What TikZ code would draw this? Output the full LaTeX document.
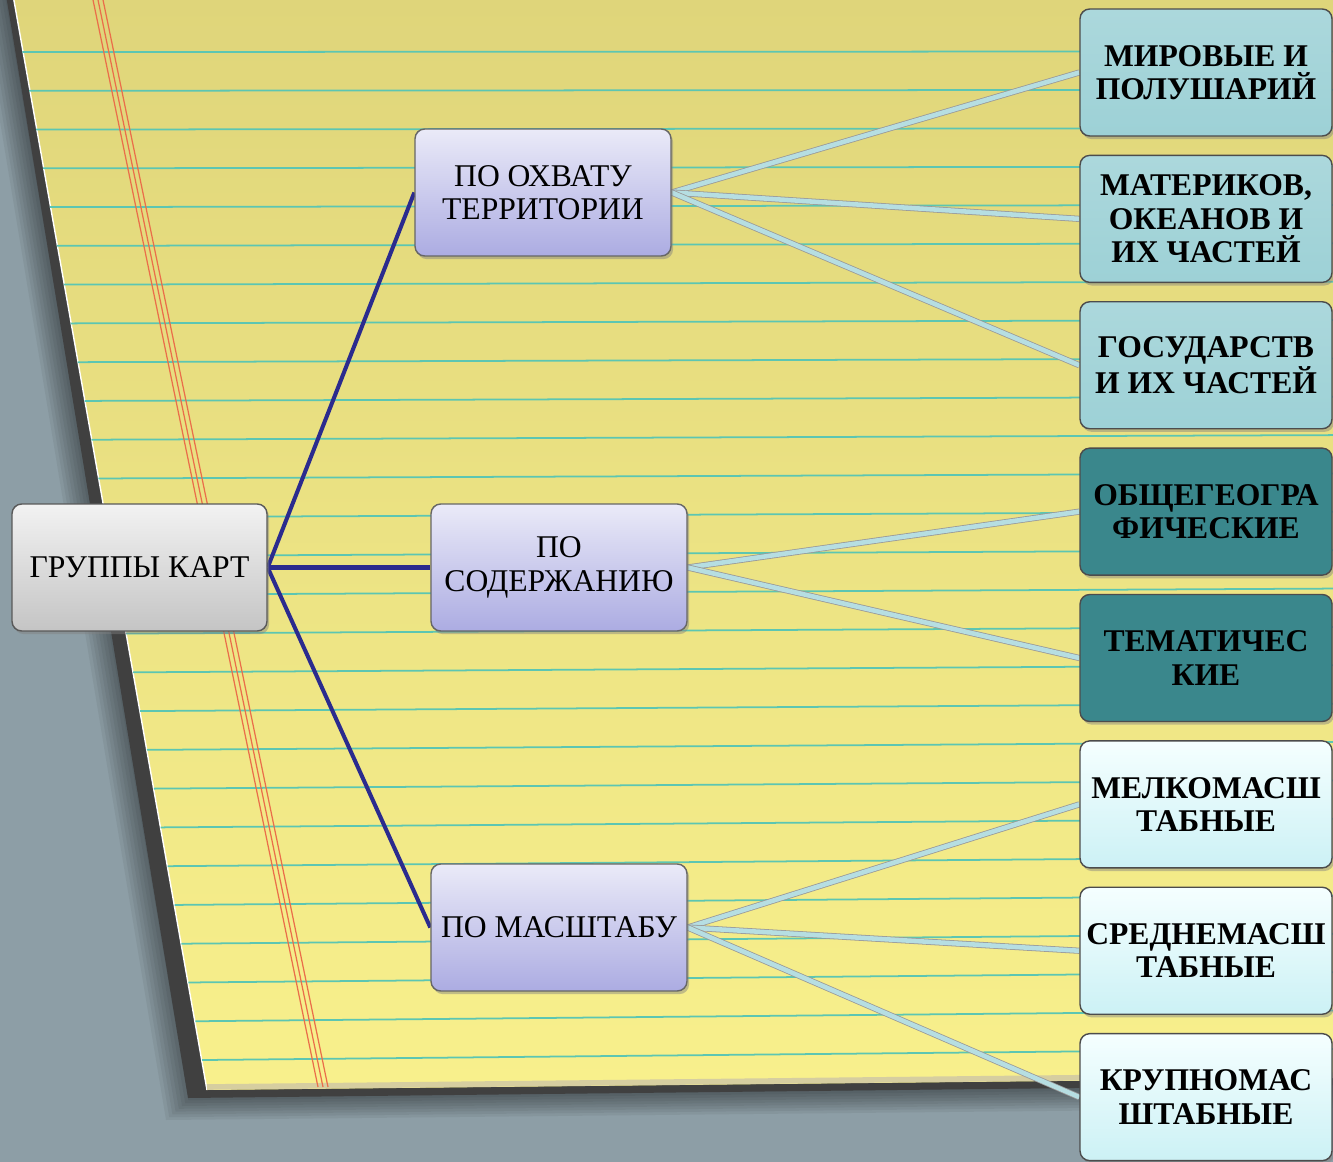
\documentclass[tikz,border=0pt]{standalone}
\usepackage{fontspec}
\setmainfont{Liberation Serif}
\usetikzlibrary{positioning, shadows}
\definecolor{deskGray}{HTML}{8D9EA6}
\definecolor{paperTop}{HTML}{DFD57A}
\definecolor{paperBot}{HTML}{F8F08C}
\definecolor{paperEdge}{HTML}{D6CEA0}
\definecolor{ruleCyan}{HTML}{5CC6B2}
\definecolor{marginRed}{HTML}{EA6E4A}
\definecolor{linkNavy}{HTML}{2B2B8E}
\definecolor{linkLight}{HTML}{B6DEE2}
\definecolor{lavTop}{HTML}{EAEAF8}
\definecolor{lavBot}{HTML}{ACACE2}
\definecolor{tealLight}{HTML}{9DD1D6}
\definecolor{tealDark}{HTML}{3A878C}
\definecolor{iceTop}{HTML}{F5FFFF}
\definecolor{iceBot}{HTML}{CCF1F5}

\pgfdeclarelayer{paper}
\pgfdeclarelayer{links}
\pgfsetlayers{paper,links,main}

\tikzset{
  card/.style={rounded corners=5.5pt, line width=0.8pt, minimum height=2.54cm,
    inner sep=2pt, align=center, font=\fontsize{18}{19}\selectfont,
    drop shadow={shadow xshift=1.2pt, shadow yshift=-1.8pt, opacity=0.45}},
  rootcard/.style={card, draw=black!65, top color=black!5, bottom color=black!23,
    minimum width=5.1cm},
  groupcard/.style={card, draw=black!60, top color=lavTop, bottom color=lavBot,
    minimum width=5.12cm},
  kindcard/.style={card, draw=black!70, minimum width=5.04cm,
    font=\fontsize{18}{19}\selectfont\bfseries},
  areacard/.style={kindcard, top color=tealLight!85!white, bottom color=tealLight},
  contentcard/.style={kindcard, fill=tealDark},
  scalecard/.style={kindcard, top color=iceTop, bottom color=iceBot},
  trunk/.style={linkNavy, line width=2.3pt},
  twig/.style={draw=black!40, double=linkLight, double distance=2.6pt, line width=0.45pt},
}

\begin{document}
\begin{tikzpicture}[x=0.02cm, y=-0.02cm, >=stealth]
  \useasboundingbox (0,0) rectangle (1333,1162);
  \clip (0,0) rectangle (1333,1162);

  \begin{pgfonlayer}{paper}
    % desk and the pad lying on it
    \fill[deskGray] (0,0) rectangle (1333,1162);
    \foreach \d in {4,8,...,40}
      \fill[black, opacity=0.055] (11-\d*0.8,-5) -- (198-\d*0.8,1092+\d*0.7)
        -- (1340,1080+\d*0.7) -- (1340,-5) -- cycle;
    \fill[black!75] (6,-5) -- (188,1098) -- (1340,1085) -- (1340,-5) -- cycle;
    \shade[top color=paperTop, bottom color=paperBot]
      (13,-5) -- (207,1090) -- (1340,1078) -- (1340,-5) -- cycle;
    \draw[white, line width=0.8pt] (13,-5) -- (207,1090);
    \draw[paperEdge, line width=3.2pt] (207,1087) -- (1340,1075);
    % ruled lines
    \foreach \k in {0,...,26} {
      \pgfmathsetmacro\yy{52+38.77*\k}
      \pgfmathsetmacro\xl{13+0.1785*\yy}
      \pgfmathsetmacro\ye{\yy*(1-0.0105)}
      \draw[ruleCyan, line width=1pt] (\xl,\yy) -- (1340,\ye);
    }
    % margin
    \foreach \dx in {0,5,10}
      \draw[marginRed, line width=0.7pt] (92+\dx,-5) -- (318+\dx,1087);
  \end{pgfonlayer}

  % root and groups
  \node[rootcard] (groups) at (139.5,567.5) {ГРУППЫ КАРТ};
  \node[groupcard] (byArea) at (543,192.5) {ПО ОХВАТУ\\ТЕРРИТОРИИ};
  \node[groupcard] (byContent) at (559,567.5) {ПО\\СОДЕРЖАНИЮ};
  \node[groupcard] (byScale) at (559,927.5) {ПО МАСШТАБУ};

  % kinds of maps
  \node[areacard] (world) at (1206,72.5) {МИРОВЫЕ И\\ПОЛУШАРИЙ};
  \node[areacard, below=0.36cm of world] (continents) {МАТЕРИКОВ,\\ОКЕАНОВ И\\ИХ ЧАСТЕЙ};
  \node[areacard, below=0.36cm of continents] (states) {ГОСУДАРСТВ\\И ИХ ЧАСТЕЙ};
  \node[contentcard, below=0.36cm of states] (general) {ОБЩЕГЕОГРА\\ФИЧЕСКИЕ};
  \node[contentcard, below=0.36cm of general] (thematic) {ТЕМАТИЧЕС\\КИЕ};
  \node[scalecard, below=0.36cm of thematic] (small) {МЕЛКОМАСШ\\ТАБНЫЕ};
  \node[scalecard, below=0.36cm of small] (medium) {СРЕДНЕМАСШ\\ТАБНЫЕ};
  \node[scalecard, below=0.36cm of medium] (large) {КРУПНОМАС\\ШТАБНЫЕ};

  \begin{pgfonlayer}{links}
    \foreach \g in {byArea,byContent,byScale}
      \draw[trunk] (groups.east) -- (\g.west);
    \foreach \k in {world,continents,states}
      \draw[twig] (byArea.east) -- (\k.west);
    \foreach \k in {general,thematic}
      \draw[twig] (byContent.east) -- (\k.west);
    \foreach \k in {small,medium,large}
      \draw[twig] (byScale.east) -- (\k.west);
  \end{pgfonlayer}
\end{tikzpicture}
\end{document}
